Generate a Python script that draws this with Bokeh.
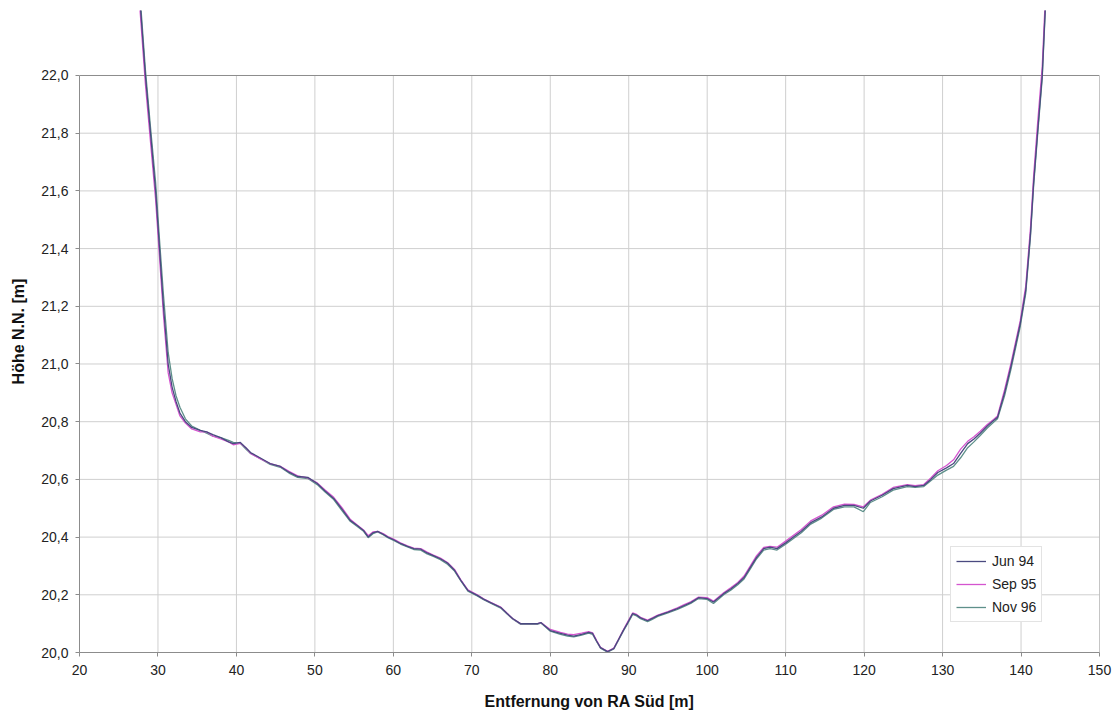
from bokeh.plotting import figure
from bokeh.models import Range1d, FixedTicker, CustomJSTickFormatter, Legend, LegendItem
from bokeh.embed import file_html
from bokeh.resources import INLINE

# ---------------- data ----------------
x_ticks = [20, 30, 40, 50, 60, 70, 80, 90, 100, 110, 120, 130, 140, 150]
y_ticks = [20.0, 20.2, 20.4, 20.6, 20.8, 21.0, 21.2, 21.4, 21.6, 21.8, 22.0]

series_names = ["Jun 94", "Sep 95", "Nov 96"]

dist = [
    27.6, 28.4, 29.05, 29.7, 30.2, 30.7, 31.3, 31.8, 32.3, 32.8,
    33.5, 34.3, 35.4, 36.2, 37.0, 38.0, 39.0, 39.6, 40.5, 41.2,
    41.8, 43.0, 44.3, 45.6, 46.7, 47.8, 49.1, 50.3, 51.3, 52.4,
    53.5, 54.5, 55.4, 56.2, 56.8, 57.4, 58.0, 58.7, 59.3, 60.1,
    60.9, 61.8, 62.6, 63.5, 64.3, 65.1, 66.0, 66.9, 67.8, 68.6,
    69.5, 70.7, 71.5, 72.4, 73.7, 74.5, 75.2, 76.2, 77.3, 78.4,
    78.8, 79.4, 80.0, 81.3, 82.2, 83.0, 84.0, 84.9, 85.4, 85.9,
    86.4, 87.3, 88.1, 88.7, 89.3, 89.9, 90.5, 91.0, 91.5, 92.4,
    93.0, 93.7, 95.0, 96.2, 97.0, 97.9, 98.9, 100.0, 100.8, 102.1,
    103.0, 103.9, 104.7, 105.5, 106.3, 107.2, 108.0, 108.9, 110.0, 111.0,
    112.0, 113.2, 114.6, 116.1, 117.5, 118.7, 119.9, 120.8, 122.3, 123.7,
    125.5, 126.5, 127.6, 128.5, 129.4, 130.5, 131.4, 132.3, 133.2, 134.0,
    134.8, 135.7, 136.5, 137.0, 137.9, 138.7, 139.9, 140.6, 141.2, 141.6,
    142.1, 142.7, 143.2,
]

jun94 = [
    22.30, 22.00, 21.80, 21.60, 21.40, 21.20, 21.00, 20.92, 20.87, 20.83,
    20.80, 20.78, 20.77, 20.765, 20.755, 20.745, 20.73, 20.724, 20.728, 20.71,
    20.693, 20.675, 20.655, 20.645, 20.625, 20.61, 20.607, 20.586, 20.56, 20.534,
    20.495, 20.458, 20.44, 20.423, 20.40, 20.415, 20.42, 20.41, 20.40, 20.39,
    20.378, 20.368, 20.36, 20.358, 20.345, 20.336, 20.325, 20.31, 20.285, 20.25,
    20.215, 20.198, 20.185, 20.173, 20.156, 20.135, 20.118, 20.10, 20.10, 20.10,
    20.104, 20.09, 20.076, 20.066, 20.06, 20.057, 20.063, 20.07, 20.066, 20.04,
    20.017, 20.003, 20.014, 20.045, 20.076, 20.105, 20.135, 20.13, 20.12, 20.11,
    20.118, 20.128, 20.14, 20.152, 20.162, 20.173, 20.19, 20.187, 20.175, 20.204,
    20.22, 20.239, 20.26, 20.295, 20.33, 20.36, 20.365, 20.36, 20.38, 20.40,
    20.42, 20.45, 20.47, 20.50, 20.51, 20.51, 20.50, 20.525, 20.545, 20.568,
    20.579, 20.575, 20.579, 20.60, 20.624, 20.64, 20.655, 20.69, 20.724, 20.74,
    20.76, 20.785, 20.804, 20.815, 20.90, 20.99, 21.14, 21.255, 21.45, 21.626,
    21.80, 22.00, 22.30,
]

sep95 = [
    22.27, 21.97, 21.77, 21.57, 21.37, 21.17, 20.97, 20.90, 20.86, 20.82,
    20.795, 20.775, 20.765, 20.765, 20.75, 20.74, 20.73, 20.72, 20.725, 20.71,
    20.69, 20.672, 20.655, 20.645, 20.628, 20.612, 20.605, 20.588, 20.563, 20.538,
    20.50, 20.462, 20.442, 20.425, 20.405, 20.418, 20.42, 20.412, 20.402, 20.392,
    20.38, 20.37, 20.362, 20.36, 20.348, 20.338, 20.327, 20.312, 20.288, 20.252,
    20.217, 20.2, 20.186, 20.174, 20.157, 20.136, 20.118, 20.10, 20.10, 20.10,
    20.104, 20.092, 20.08, 20.07, 20.064, 20.062, 20.067, 20.072, 20.068, 20.042,
    20.018, 20.004, 20.015, 20.046, 20.078, 20.108, 20.137, 20.132, 20.122, 20.112,
    20.12, 20.13, 20.142, 20.155, 20.165, 20.176, 20.192, 20.19, 20.178, 20.207,
    20.224, 20.243, 20.265, 20.30, 20.336, 20.364, 20.368, 20.365, 20.386, 20.406,
    20.426, 20.456, 20.476, 20.505, 20.514, 20.513, 20.505, 20.528, 20.548, 20.572,
    20.582, 20.578, 20.582, 20.605, 20.63, 20.648, 20.668, 20.705, 20.732, 20.748,
    20.767, 20.79, 20.808, 20.82, 20.91, 21.0, 21.15, 21.27, 21.47, 21.65,
    21.83, 22.03, 22.33,
]

nov96 = [
    22.32, 22.02, 21.82, 21.63, 21.43, 21.24, 21.04, 20.95, 20.89, 20.85,
    20.81, 20.785, 20.77, 20.76, 20.75, 20.745, 20.735, 20.728, 20.725, 20.705,
    20.69, 20.673, 20.652, 20.642, 20.622, 20.607, 20.603, 20.582, 20.556, 20.53,
    20.49, 20.455, 20.437, 20.42, 20.398, 20.412, 20.418, 20.408, 20.398, 20.388,
    20.376, 20.366, 20.357, 20.355, 20.342, 20.333, 20.322, 20.306, 20.282, 20.248,
    20.213, 20.196, 20.183, 20.171, 20.154, 20.133, 20.116, 20.098, 20.098, 20.098,
    20.102, 20.088, 20.074, 20.063, 20.057, 20.054, 20.06, 20.067, 20.063, 20.038,
    20.015, 20.001, 20.012, 20.043, 20.074, 20.102, 20.132, 20.127, 20.117, 20.107,
    20.115, 20.125, 20.137, 20.149, 20.159, 20.17, 20.187, 20.184, 20.17, 20.2,
    20.216, 20.235, 20.255, 20.29, 20.325, 20.355, 20.36, 20.355, 20.375, 20.395,
    20.415, 20.445, 20.466, 20.496, 20.505, 20.505, 20.488, 20.52, 20.54, 20.563,
    20.575, 20.572, 20.575, 20.595, 20.615, 20.632, 20.645, 20.675, 20.71, 20.73,
    20.752, 20.778, 20.798, 20.81, 20.89, 20.98, 21.13, 21.245, 21.44, 21.615,
    21.79, 21.99, 22.29,
]

colors = {"Jun 94": "#4a4a80", "Sep 95": "#d455cf", "Nov 96": "#5e908a"}

# ---------------- figure ----------------
FONT = "Liberation Sans"
x_min, x_max = x_ticks[0], x_ticks[-1]
y_min, y_max = y_ticks[0], y_ticks[-1]

p = figure(
    width=1119, height=715,
    output_backend="svg", toolbar_location=None,
    x_range=Range1d(x_min, x_max), y_range=Range1d(y_min, 22.2253),
    min_border_left=79, min_border_right=20, min_border_top=10, min_border_bottom=63,
    background_fill_color="white", border_fill_color="white",
)
p.outline_line_color = None
p.xgrid.visible = False
p.ygrid.visible = False

grid_col = "#cfcfcf"
# vertical grid lines
vx = x_ticks[1:-1]
p.segment(x0=vx, y0=[y_min] * len(vx), x1=vx, y1=[y_max] * len(vx),
          line_color=grid_col, line_width=1)
# horizontal grid lines
hy = y_ticks[1:-1]
p.segment(x0=[x_min] * len(hy), y0=hy, x1=[x_max] * len(hy), y1=hy,
          line_color=grid_col, line_width=1)
# top and right border of plot area
p.segment(x0=[x_min, x_max], y0=[y_max, y_min], x1=[x_max, x_max], y1=[y_max, y_max],
          line_color="#8c8c8c", line_width=1)

r_nov = p.line(dist, nov96, line_color=colors["Nov 96"], line_width=1.3)
r_sep = p.line(dist, sep95, line_color=colors["Sep 95"], line_width=1.3)
r_jun = p.line(dist, jun94, line_color=colors["Jun 94"], line_width=1.3)

# axes
for ax in (p.xaxis[0], p.yaxis[0]):
    ax.axis_line_color = "#8c8c8c"
    ax.major_tick_line_color = "#8c8c8c"
    ax.major_tick_out = 4
    ax.major_tick_in = 0
    ax.minor_tick_line_color = None
    ax.major_label_text_font = FONT
    ax.major_label_text_font_size = "14px"
    ax.major_label_text_color = "#222222"
    ax.axis_label_text_font = FONT
    ax.axis_label_text_font_size = "16px"
    ax.axis_label_text_font_style = "bold"
    ax.axis_label_text_color = "#111111"

p.xaxis[0].ticker = FixedTicker(ticks=x_ticks)
p.xaxis[0].bounds = (x_min, x_max)
p.xaxis[0].major_label_standoff = 8
p.xaxis[0].axis_label = "Entfernung von RA Süd [m]"
p.xaxis[0].axis_label_standoff = 15

p.yaxis[0].ticker = FixedTicker(ticks=y_ticks)
p.yaxis[0].bounds = (y_min, y_max)
p.yaxis[0].formatter = CustomJSTickFormatter(code="return tick.toFixed(1).replace('.', ',')")
p.yaxis[0].major_label_standoff = 7
p.yaxis[0].axis_label = "Höhe N.N. [m]"
p.yaxis[0].axis_label_standoff = 11

legend = Legend(
    items=[
        LegendItem(label=series_names[0], renderers=[r_jun]),
        LegendItem(label=series_names[1], renderers=[r_sep]),
        LegendItem(label=series_names[2], renderers=[r_nov]),
    ],
    location=(871, 30),
    orientation="vertical",
    label_text_font=FONT,
    label_text_font_size="14px",
    label_text_color="#222222",
    glyph_width=30, glyph_height=18, label_height=18,
    label_standoff=6, spacing=5, padding=5, margin=0,
    border_line_color="#c8c8c8", border_line_width=1,
    background_fill_color="white", background_fill_alpha=1.0,
)
p.add_layout(legend)

open("out.html", "w").write(file_html(p, INLINE))
